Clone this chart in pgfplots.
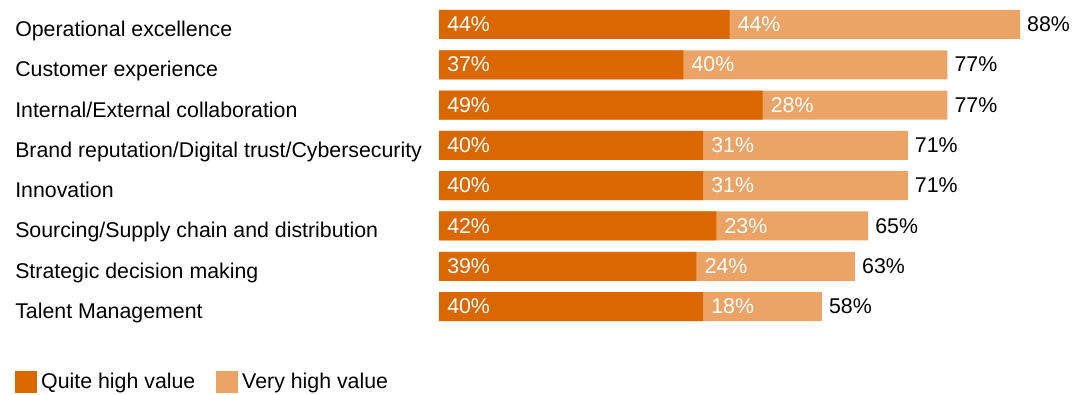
\documentclass[border=0pt]{standalone}
\usepackage{fontspec}
\setmainfont{Liberation Sans}
\usepackage{pgfplots}
\pgfplotsset{compat=1.18}
\definecolor{dark}{HTML}{DB6700}
\definecolor{light}{HTML}{EBA466}
\begin{document}
\begin{tikzpicture}[font=\fontsize{16}{19}\selectfont]
\useasboundingbox (0,0) rectangle (816pt,296.25pt);
\begin{axis}[
  at={(329.25pt,51.19pt)}, anchor=south west,
  scale only axis, width=435.75pt, height=241.8pt,
  xmin=0, xmax=88, ymin=-0.5, ymax=7.5, y dir=reverse,
  axis line style={draw=none}, tick style={draw=none},
  xtick=\empty, ytick={0,...,7},
  yticklabels={Operational excellence, Customer experience, Internal/External collaboration, Brand reputation/Digital trust/Cybersecurity, Innovation, Sourcing/Supply chain and distribution, Strategic decision making, Talent Management},
  yticklabel style={anchor=base west, inner sep=0pt, xshift=-318pt, yshift=-9pt, font=\fontsize{16}{19}\selectfont},
  clip=false,
  legend columns=2,
  legend cell align=left,
  legend style={draw=none, fill=none, inner sep=0pt, outer sep=0pt,
    at={(-0.7298,-0.1698)}, anchor=west,
    font=\fontsize{16}{19}\selectfont,
    nodes={inner sep=0pt},
    /tikz/every odd column/.append style={column sep=3.5pt},
    /tikz/every even column/.append style={column sep=15.5pt}},
]
\addplot[xbar, bar width=21.75pt, bar shift=0pt, fill=light, draw=none, forget plot]
  coordinates {(88,0) (77,1) (77,2) (71,3) (71,4) (65,5) (63,6) (58,7)};
\addplot[xbar, bar width=21.75pt, bar shift=0pt, fill=dark, draw=none, forget plot]
  coordinates {(44,0) (37,1) (49,2) (40,3) (40,4) (42,5) (39,6) (40,7)};
% labels on dark segments
\addplot[draw=none, mark=none, forget plot, nodes near coords, point meta=explicit symbolic,
  nodes near coords style={anchor=base west, inner sep=0pt, xshift=6pt, yshift=-5.4pt, text=white, font=\fontsize{16}{19}\selectfont}]
  coordinates {(0,0) [44\%] (0,1) [37\%] (0,2) [49\%] (0,3) [40\%] (0,4) [40\%] (0,5) [42\%] (0,6) [39\%] (0,7) [40\%]};
% labels on light segments
\addplot[draw=none, mark=none, forget plot, nodes near coords, point meta=explicit symbolic,
  nodes near coords style={anchor=base west, inner sep=0pt, xshift=6pt, yshift=-5.4pt, text=white, font=\fontsize{16}{19}\selectfont}]
  coordinates {(44,0) [44\%] (37,1) [40\%] (49,2) [28\%] (40,3) [31\%] (40,4) [31\%] (42,5) [23\%] (39,6) [24\%] (40,7) [18\%]};
% totals
\addplot[draw=none, mark=none, forget plot, nodes near coords, point meta=explicit symbolic,
  nodes near coords style={anchor=base west, inner sep=0pt, xshift=5.2pt, yshift=-5.4pt, text=black, font=\fontsize{16}{19}\selectfont}]
  coordinates {(88,0) [88\%] (77,1) [77\%] (77,2) [77\%] (71,3) [71\%] (71,4) [71\%] (65,5) [65\%] (63,6) [63\%] (58,7) [58\%]};
\addlegendimage{legend image code/.code={\fill[dark] (0pt,-7.875pt) rectangle (15.75pt,7.875pt);}}
\addlegendentry{Quite high value}
\addlegendimage{legend image code/.code={\fill[light] (0pt,-7.875pt) rectangle (15.75pt,7.875pt);}}
\addlegendentry{Very high value}
\end{axis}
\end{tikzpicture}
\end{document}
